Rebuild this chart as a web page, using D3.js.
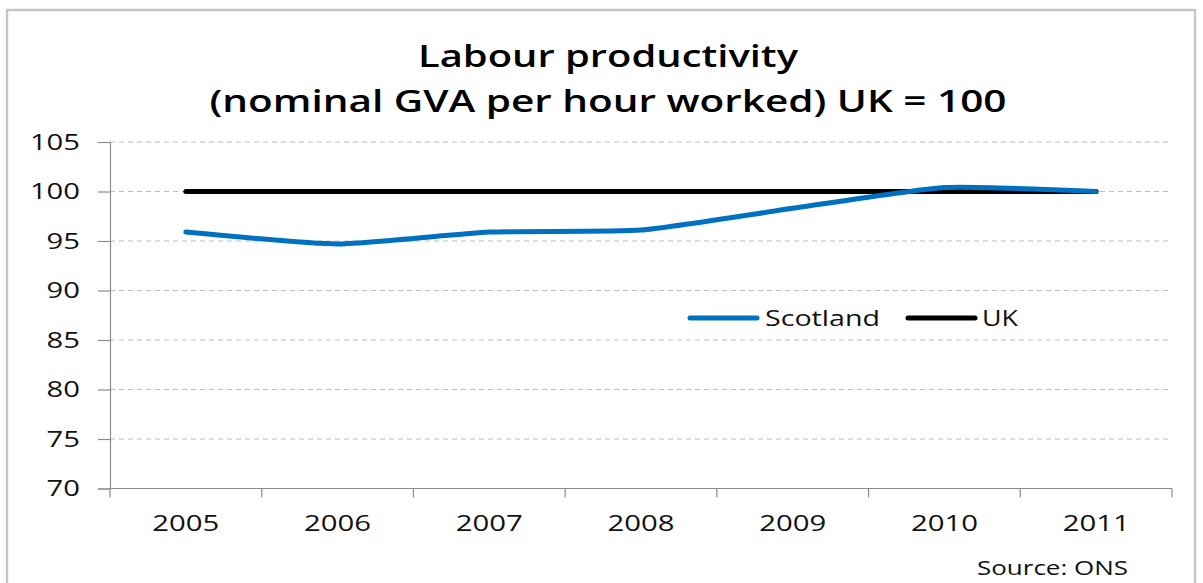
<!DOCTYPE html>
<html>
<head>
<meta charset="utf-8">
<script src="https://cdn.jsdelivr.net/npm/d3@7"></script>
<style>
  html, body { margin: 0; padding: 0; background: #fff; }
  svg { display: block; font-family: "Open Sans", "DejaVu Sans", sans-serif; }
</style>
</head>
<body>
<svg id="chart" width="1203" height="583"></svg>
<script>
// Labour productivity, nominal GVA per hour worked (UK = 100)
const years = ["2005", "2006", "2007", "2008", "2009", "2010", "2011"];
const scotland = [95.9, 94.7, 95.9, 96.1, 98.3, 100.4, 100.0];
const uk = [100, 100, 100, 100, 100, 100, 100];
const yTicks = [70, 75, 80, 85, 90, 95, 100, 105];
const titleLines = ["Labour productivity", "(nominal GVA per hour worked) UK = 100"];
const seriesNames = ["Scotland", "UK"];
const seriesColors = ["#0070C0", "#000000"];

const svg = d3.select("#chart");

// outer frame
svg.append("rect")
  .attr("x", 7).attr("y", 10)
  .attr("width", 1188).attr("height", 590)
  .attr("fill", "#fff")
  .attr("stroke", "#c6c6c6").attr("stroke-width", 2.5);

const plot = { left: 110, right: 1172, top: 142, bottom: 488.5 };

const x = d3.scaleBand().domain(years).range([plot.left, plot.right]);
const y = d3.scaleLinear().domain([70, 105]).range([plot.bottom, plot.top]);

// the labels are set in a wide face; stretch each run horizontally
const charW = 16.7;

// title
svg.append("g").selectAll("text")
  .data(titleLines)
  .join("text")
  .attr("x", 608)
  .attr("y", (d, i) => 67 + i * 45)
  .attr("text-anchor", "middle")
  .attr("font-size", 30)
  .attr("font-weight", 600)
  .attr("fill", "#000")
  .attr("textLength", (d, i) => i === 0 ? 380 : 797)
  .attr("lengthAdjust", "spacingAndGlyphs")
  .text(d => d);

// horizontal gridlines
svg.append("g").selectAll("line")
  .data(yTicks.filter(t => t > 70))
  .join("line")
  .attr("x1", plot.left).attr("x2", plot.right)
  .attr("y1", d => y(d)).attr("y2", d => y(d))
  .attr("stroke", "#bdbdbd").attr("stroke-width", 1)
  .attr("stroke-dasharray", "5,4");

// y axis
const yAxis = svg.append("g")
  .attr("transform", `translate(${plot.left},0)`)
  .call(d3.axisLeft(y).tickValues(yTicks).tickSize(12).tickPadding(18).tickFormat(d3.format("d")));
yAxis.select(".domain").attr("stroke", "#8c8c8c").attr("stroke-width", 1.2);
yAxis.selectAll(".tick line").attr("stroke", "#8c8c8c").attr("stroke-width", 1.2);
yAxis.selectAll(".tick text")
  .attr("font-size", 22).attr("fill", "#111")
  .attr("font-family", "'Open Sans', sans-serif")
  .attr("textLength", d => String(d).length * charW)
  .attr("lengthAdjust", "spacingAndGlyphs");

// x axis: ticks on category boundaries
const xAxisG = svg.append("g").attr("transform", `translate(0,${plot.bottom})`);
xAxisG.append("line")
  .attr("x1", plot.left).attr("x2", plot.right)
  .attr("stroke", "#8c8c8c").attr("stroke-width", 1.2);
const boundaries = years.map(d => x(d)).concat([x(years[years.length - 1]) + x.bandwidth()]);
xAxisG.selectAll("line.b")
  .data(boundaries)
  .join("line").attr("class", "b")
  .attr("x1", d => d).attr("x2", d => d)
  .attr("y1", 0).attr("y2", 9)
  .attr("stroke", "#8c8c8c").attr("stroke-width", 1.2);
xAxisG.selectAll("text")
  .data(years)
  .join("text")
  .attr("x", d => x(d) + x.bandwidth() / 2)
  .attr("y", 42)
  .attr("text-anchor", "middle")
  .attr("font-size", 22).attr("fill", "#111")
  .attr("textLength", 67)
  .attr("lengthAdjust", "spacingAndGlyphs")
  .text(d => d);

// series lines
const line = d3.line()
  .x((d, i) => x(years[i]) + x.bandwidth() / 2)
  .y(d => y(d));

svg.append("path")
  .datum(uk)
  .attr("d", line.curve(d3.curveLinear))
  .attr("fill", "none")
  .attr("stroke", seriesColors[1]).attr("stroke-width", 5)
  .attr("stroke-linecap", "round");

svg.append("path")
  .datum(scotland)
  .attr("d", line.curve(d3.curveCardinal.tension(0.5)))
  .attr("fill", "none")
  .attr("stroke", seriesColors[0]).attr("stroke-width", 5)
  .attr("stroke-linecap", "round");

// legend
const legendItems = [
  { name: seriesNames[0], color: seriesColors[0], x1: 690, x2: 757, tx: 765, w: 115 },
  { name: seriesNames[1], color: seriesColors[1], x1: 908, x2: 975, tx: 982, w: 36 }
];
const lg = svg.append("g");
lg.selectAll("line")
  .data(legendItems)
  .join("line")
  .attr("x1", d => d.x1).attr("x2", d => d.x2)
  .attr("y1", 318).attr("y2", 318)
  .attr("stroke", d => d.color).attr("stroke-width", 5)
  .attr("stroke-linecap", "round");
lg.selectAll("text")
  .data(legendItems)
  .join("text")
  .attr("x", d => d.tx).attr("y", 326)
  .attr("font-size", 22).attr("fill", "#111")
  .attr("textLength", d => d.w)
  .attr("lengthAdjust", "spacingAndGlyphs")
  .text(d => d.name);

// source note
svg.append("text")
  .attr("x", 1128).attr("y", 575)
  .attr("text-anchor", "end")
  .attr("font-size", 20).attr("fill", "#111")
  .attr("textLength", 151)
  .attr("lengthAdjust", "spacingAndGlyphs")
  .text("Source: ONS");
</script>
</body>
</html>
